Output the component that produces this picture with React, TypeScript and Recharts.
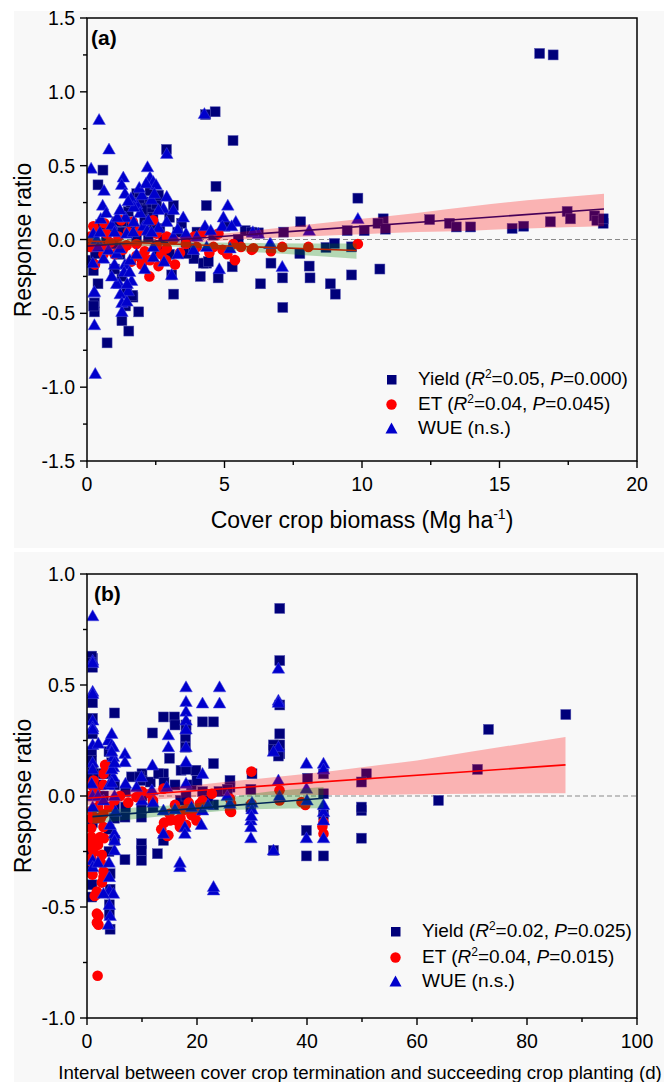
import React from 'react';
import { ComposedChart, Scatter, Line, Area, XAxis, YAxis, ReferenceLine, ReferenceArea } from 'recharts';

// ---- panel (a): cover crop biomass (Mg ha-1) ----
const yieldA: [number, number][] = [
  [16.46, 1.26], [16.95, 1.25], [4.66, 0.865], [4.31, 0.846], [5.31, 0.67], [2.89, 0.61], [0.58, 0.47], [0.4, 0.37],
  [4.69, 0.36], [4.34, 0.23], [9.85, 0.28], [7.77, 0.12], [7.15, 0.05], [9.46, 0.06], [10.08, 0.06], [10.77, 0.14],
  [10.58, 0.11], [10.85, 0.07], [12.46, 0.135], [13.18, 0.11], [13.43, 0.085], [13.95, 0.085], [15.46, 0.075],
  [15.88, 0.09], [16.85, 0.12], [17.46, 0.19], [17.58, 0.14], [18.46, 0.16], [18.54, 0.13], [18.77, 0.11], [18.77, 0.14],
  [6.31, -0.3], [6.69, -0.16], [7.11, -0.26], [8.08, -0.18], [8.11, -0.26], [7.74, -0.095], [8.85, -0.3], [9.03, -0.37],
  [9.62, -0.24], [10.65, -0.2], [8.69, -0.054], [9.0, -0.027], [9.62, -0.05], [4.12, -0.25], [4.77, -0.26], [4.35, -0.16],
  [5.28, -0.185], [3.89, -0.13], [3.08, -0.24], [3.15, -0.37], [1.66, -0.38], [1.81, 0.31], [2.05, 0.255], [2.29, 0.33],
  [2.19, 0.22], [1.5, 0.19], [1.38, 0.12], [1.44, 0.05], [2.29, 0.18], [2.53, 0.24], [3.14, 0.23], [3.44, 0.11],
  [5.02, 0.09], [5.75, 0.06], [5.99, 0.05], [6.23, 0.045], [4.23, -0.16], [4.41, -0.15], [3.62, -0.095], [0.17, -0.14],
  [0.23, -0.21], [0.53, -0.06], [0.96, -0.03], [1.62, 0.1], [2.65, 0.075], [2.23, 0.02], [1.8, 0.0], [2.78, 0.0],
  [3.87, -0.06], [0.27, -0.43], [0.27, -0.49], [0.73, -0.7], [1.27, -0.55], [1.52, -0.62], [1.67, -0.39], [1.88, -0.49],
  [1.45, -0.36], [7.12, -0.46], [1.09, 0.12], [0.24, -0.45], [1.27, -0.25], [1.64, -0.38], [0.3, -0.095], [0.7, 0.0],
  [1.2, -0.1], [2.0, -0.12], [2.6, -0.08], [3.3, 0.05], [0.9, 0.06], [2.4, 0.1], [1.0, -0.2], [1.9, 0.28], [2.1, 0.12],
  [3.0, -0.1], [4.0, 0.05], [4.6, 0.03], [5.5, 0.0], [3.6, -0.02], [2.0, 0.2], [2.4, 0.15], [1.6, 0.25], [1.2, 0.05],
  [0.5, 0.1], [0.2, -0.05], [0.4, -0.3], [1.4, -0.45], [2.6, 0.3], [3.0, 0.15],
];
const etA: [number, number][] = [
  [0.23, 0.09], [0.63, 0.11], [1.24, 0.13], [0.13, 0.02], [0.29, -0.17], [2.27, -0.25], [2.87, -0.14], [3.38, -0.09],
  [4.23, 0.05], [4.45, -0.09], [4.78, 0.04], [4.93, -0.07], [5.38, -0.14], [5.99, -0.07], [6.69, -0.08], [7.1, -0.05],
  [1.99, -0.17], [1.8, -0.11], [2.29, -0.14], [2.53, 0.04], [2.9, 0.02], [2.9, -0.06], [1.8, -0.03], [1.44, -0.04],
  [1.14, 0.02], [0.84, -0.02], [2.53, -0.04], [3.14, 0.0], [3.99, -0.05], [5.32, -0.03], [8.05, -0.05], [9.85, -0.03],
  [6.05, -0.06], [1.66, 0.12], [2.4, 0.13], [0.5, -0.05], [0.35, 0.05], [1.0, -0.1], [1.6, -0.15], [2.1, -0.08],
  [3.6, -0.03], [4.6, -0.05], [5.1, -0.1], [5.6, -0.05], [2.7, -0.1], [3.9, 0.02], [1.3, -0.07], [0.7, 0.04],
  [2.85, -0.14], [2.05, -0.13], [0.15, -0.05], [0.6, -0.1], [1.5, 0.05], [2.6, -0.18], [3.2, -0.17], [1.9, 0.06],
];
const wueA: [number, number][] = [
  [0.44, 0.81], [0.8, 0.61], [0.15, 0.48], [4.27, 0.85], [2.9, 0.58], [2.2, 0.49], [2.29, 0.42], [2.41, 0.39], [2.51, 0.37],
  [1.32, 0.42], [1.26, 0.37], [1.38, 0.31], [0.62, 0.33], [0.57, 0.23], [2.9, 0.29], [2.78, 0.21], [3.14, 0.2], [5.12, 0.23],
  [4.96, 0.15], [5.41, 0.12], [4.92, 0.09], [4.29, 0.09], [6.23, 0.04], [6.68, -0.03], [7.1, -0.185], [4.81, -0.2],
  [3.08, -0.24], [0.21, -0.16], [0.6, -0.13], [0.78, -0.07], [0.25, -0.36], [1.18, -0.3], [1.5, -0.35], [1.62, -0.28],
  [1.38, -0.17], [1.56, -0.14], [2.05, 0.09], [2.19, 0.06], [1.8, 0.24], [1.93, 0.18], [2.23, 0.13], [2.41, -0.05],
  [3.14, 0.02], [3.87, -0.07], [3.99, 0.02], [4.35, -0.05], [5.2, -0.06], [5.26, 0.09], [1.08, -0.095], [1.2, -0.06],
  [0.23, 0.04], [0.35, 0.0], [0.47, 0.05], [1.44, 0.04], [1.68, 0.05], [2.41, -0.12], [0.27, -0.58], [0.3, -0.91],
  [0.27, -0.355], [1.21, -0.37], [1.27, -0.43], [1.27, -0.49], [1.45, -0.42], [1.08, -0.3], [1.46, -0.3], [8.08, 0.06],
  [9.85, 0.14], [6.03, 0.05], [6.65, -0.03], [1.6, 0.28], [1.7, 0.22], [2.0, 0.3], [2.35, 0.27], [2.6, 0.2], [1.4, 0.15],
  [1.7, 0.12], [2.6, 0.08], [3.3, 0.07], [0.5, 0.14], [0.9, 0.1], [1.1, 0.15], [3.6, 0.04], [4.5, 0.06], [0.4, -0.05],
  [1.0, -0.17], [1.8, -0.1], [2.1, -0.2], [2.8, -0.15], [3.3, -0.1], [2.35, 0.05], [1.9, 0.35], [2.15, 0.38], [1.5, 0.26],
  [2.45, 0.31], [1.2, 0.2], [0.7, 0.18], [1.0, 0.05], [2.9, 0.12], [3.5, 0.15], [1.35, -0.22], [1.55, -0.22], [0.9, -0.25],
];
const yieldFitA: [number, number][] = [[0, -0.045], [18.8, 0.207]];
const yieldBandA: [number, number, number][] = [
  [0, -0.08, -0.01], [2, -0.05, 0.0], [4, -0.02, 0.025], [6, 0.005, 0.06], [8, 0.02, 0.1], [10, 0.035, 0.14],
  [12, 0.05, 0.18], [14, 0.06, 0.225], [16, 0.075, 0.265], [18.8, 0.09, 0.31],
];
const etFitA: [number, number][] = [[0, -0.01], [9.8, -0.075]];
const etBandA: [number, number, number][] = [[0, -0.035, 0.015], [3, -0.048, -0.012], [6.5, -0.09, -0.025], [9.8, -0.13, -0.027]];

// ---- panel (b): interval termination -> planting (d) ----
const yieldB: [number, number][] = [
  [87.06, 0.367], [73.0, 0.3], [71.0, 0.12], [63.9, -0.02], [50.8, 0.1], [49.9, 0.063], [49.9, -0.065], [49.9, -0.19],
  [49.9, -0.05], [35.05, 0.845], [35.05, 0.61], [35.05, 0.41], [35.05, 0.28], [35.05, 0.23], [35.05, 0.19], [33.9, 0.23],
  [33.9, 0.21], [34.8, 0.18], [40.1, 0.08], [43, 0.1], [43, 0.01], [43, -0.084], [39.9, -0.155], [39.9, -0.27], [43, -0.27],
  [33.9, -0.245], [29.8, 0.03], [30.0, 0.1], [29.8, -0.05], [26, 0.07], [26, 0.04], [23, -0.04], [5.0, 0.374], [1.0, 0.62],
  [1.0, 0.58], [1.0, 0.42], [1.0, 0.115], [0.85, 0.63], [0.85, 0.6], [0.85, 0.086], [11.9, 0.284], [13.9, 0.356],
  [15.9, 0.356], [21.0, 0.334], [23.0, 0.334], [23.0, 0.146], [17.9, 0.266], [17.9, 0.22], [15.0, 0.17], [13.9, 0.1],
  [17.1, 0.116], [19.8, 0.116], [10.0, 0.1], [10.0, 0.07], [8.1, 0.086], [9.6, 0.086], [11.5, 0.063], [13, 0.1], [18, 0.12],
  [9.9, -0.215], [9.9, -0.245], [9.9, -0.29], [6.9, -0.287], [12.8, -0.26], [13.9, -0.2], [0.85, -0.245], [0.85, -0.455],
  [4.06, -0.53], [4.06, -0.49], [6.9, -0.095], [9.9, -0.095], [9.9, -0.057], [0.85, 0.2], [0.85, 0.16], [1.0, 0.28],
  [4.0, 0.2], [4.5, 0.15], [4.0, 0.1], [5.0, 0.05], [3.0, 0.0], [5.0, -0.05], [4.0, -0.15], [5.0, -0.2], [1.0, -0.12],
  [4.2, -0.35], [4.2, -0.42], [0.9, -0.4], [2.0, -0.1], [7, 0.02], [7, -0.05], [10, 0.0], [12, -0.05], [17.0, -0.02],
  [18, 0.0], [19, 0.05], [21, 0.02], [22, -0.02], [24, 0.02], [16, 0.05], [14, 0.06], [20, 0.07], [18, 0.32], [18, 0.3],
  [16, 0.32], [25.5, 0.03], [1, 0.35], [1, 0.0], [1, -0.2], [2, 0.1], [3, 0.1], [4, -0.25], [5, -0.1], [0.85, -0.32],
  [4.2, -0.6], [2, 0.05],
];
const etB: [number, number][] = [
  [3.3, 0.14], [3.0, 0.1], [1.2, 0.04], [0.9, 0.003], [0.9, -0.065], [0.8, -0.185], [0.8, -0.35], [1.8, -0.43],
  [1.8, -0.53], [1.8, -0.57], [3.0, -0.34], [3.0, -0.365], [2.4, -0.185], [3.0, -0.14], [3.0, -0.08], [1.5, -0.1],
  [1.93, -0.81], [2.08, -0.54], [2.08, -0.58], [1.0, -0.354], [2.7, -0.39], [1.9, -0.44], [0.77, -0.23], [0.77, -0.2],
  [0.77, -0.145], [2.7, -0.265], [3.1, -0.19], [42.8, -0.137], [43, -0.117], [43, -0.17], [14.6, -0.18], [29.9, 0.11],
  [26, -0.012], [22.7, 0.01], [20.5, -0.035], [19, -0.087], [17.5, -0.065], [16.3, -0.11], [15.1, -0.11], [14.8, -0.177],
  [16.9, -0.14], [19.9, -0.11], [13.9, 0.033], [11.5, 0.01], [9.0, -0.005], [26, -0.065], [29.9, -0.035], [35, 0.026],
  [35, -0.02], [39, -0.027], [39.7, -0.04], [26.2, -0.072], [26.2, -0.035], [1.2, 0.07], [3.5, 0.13], [0.8, 0.05],
  [1.5, 0.02], [2.5, -0.02], [4, -0.05], [5, -0.02], [6, 0.0], [7.5, -0.03], [10, 0.02], [12, -0.02], [15, -0.08],
  [18, -0.13], [17, -0.1], [20, -0.07], [21, -0.02], [16, -0.04], [14, -0.12], [13.5, -0.15], [18.5, -0.03], [0.8, -0.28],
  [0.8, -0.1], [2.5, -0.3], [2, -0.22], [1.2, -0.25], [1, -0.3], [2.5, -0.1], [2, -0.05], [3, 0.05], [1.4, -0.45],
];
const wueB: [number, number][] = [
  [1.03, 0.81], [1.03, 0.61], [1.03, 0.6], [1.03, 0.47], [1.03, 0.46], [1.03, 0.34], [1.03, 0.31], [1.03, 0.3], [1.03, 0.23],
  [2.06, 0.236], [3.9, 0.25], [4.5, 0.23], [4.8, 0.22], [4.8, 0.176], [4.8, 0.13], [4.8, 0.086], [4.5, 0.2], [4.5, 0.12],
  [6.9, 0.19], [6.9, 0.153], [9.9, 0.086], [11.9, 0.138], [14.8, 0.274], [14.8, 0.22], [18.0, 0.49], [18.0, 0.424],
  [18.0, 0.38], [18.0, 0.34], [18.0, 0.3], [18.0, 0.22], [18.0, 0.153], [21.0, 0.417], [24.1, 0.49], [24.1, 0.417],
  [21.0, 0.1], [34.8, 0.574], [34.8, 0.43], [34.8, 0.42], [34.8, 0.22], [33.9, 0.2], [34.8, 0.07], [39.9, 0.146],
  [43, 0.146], [43, 0.12], [39.9, 0.033], [43, -0.072], [43, -0.19], [39.9, -0.19], [33.9, -0.245], [29.8, -0.19],
  [29.8, -0.11], [29.8, -0.14], [26, -0.035], [23, -0.425], [16.9, -0.32], [16.9, -0.3], [13.9, -0.17], [17.8, -0.14],
  [17.8, -0.17], [20.8, -0.13], [21, -0.065], [13.9, -0.065], [14.5, 0.04], [11.8, 0.026], [7.0, 0.056], [9, 0.04],
  [0.85, 0.056], [1.03, -0.29], [1.03, -0.32], [4.06, -0.365], [4.06, -0.425], [4.8, -0.44], [3.0, -0.44], [4.06, -0.49],
  [4.2, -0.54], [3.9, -0.58], [5.0, -0.17], [5.0, -0.245], [5.0, -0.2], [4.2, -0.13], [5.2, -0.07], [18, 0.056],
  [1.03, 0.0], [1.03, -0.05], [2.0, 0.0], [3.0, -0.02], [4, 0.05], [5, 0.0], [10, -0.02], [12, -0.03], [16, -0.06],
  [19, -0.05], [22, -0.04], [25.5, 0.0], [30, -0.03], [30, -0.06], [35, 0.0], [40, -0.02], [43, -0.11], [43, -0.04],
  [23, -0.41], [29.9, -0.09], [4.5, 0.28], [4.5, 0.06], [2, -0.3], [1.03, 0.15], [1.03, 0.12], [4, -0.3], [5, 0.15],
];
const etFitB: [number, number][] = [[0, -0.01], [87, 0.14]];
const etBandB: [number, number, number][] = [
  [0, -0.04, 0.02], [10, -0.02, 0.03], [20, -0.005, 0.05], [30, 0.005, 0.075], [40, 0.005, 0.1], [50, 0.005, 0.13],
  [60, 0.008, 0.16], [70, 0.01, 0.2], [87, 0.012, 0.266],
];
const yieldFitB: [number, number][] = [[1, -0.093], [43, -0.01]];
const yieldBandB: [number, number, number][] = [[1, -0.125, -0.068], [10, -0.1, -0.05], [20, -0.077, -0.033], [30, -0.06, 0.01], [43, -0.055, 0.04]];

const xTicksA = [0, 2.5, 5, 7.5, 10, 12.5, 15, 17.5, 20];
const xMajorA = [0, 5, 10, 15, 20];
const yTicksA = [-1.5, -1.25, -1, -0.75, -0.5, -0.25, 0, 0.25, 0.5, 0.75, 1, 1.25, 1.5];
const yMajorA = [-1.5, -1, -0.5, 0, 0.5, 1, 1.5];
const xTicksB = [0, 10, 20, 30, 40, 50, 60, 70, 80, 90, 100];
const xMajorB = [0, 20, 40, 60, 80, 100];
const yTicksB = [-1, -0.75, -0.5, -0.25, 0, 0.25, 0.5, 0.75, 1];
const yMajorB = [-1, -0.5, 0, 0.5, 1];

const NAVY = '#00007a';
const BLUE = '#0000cc';
const RED = '#ff0000';
const FONT = '"Liberation Sans", Arial, sans-serif';

const pts = (a: [number, number][]) => a.map(([x, y]) => ({ x, y }));
const fit = (a: [number, number][]) => a.map(([x, y]) => ({ x, y }));
const band = (a: [number, number, number][]) => a.map(([x, lo, hi]) => ({ x, range: [lo, hi] }));

const Square = (p: any) => <rect x={p.cx - 5} y={p.cy - 5} width={10} height={10} fill={NAVY} stroke="#5050b0" strokeWidth={0.5} />;
const Dot = (p: any) => <circle cx={p.cx} cy={p.cy} r={5.3} fill={RED} />;
const Tri = (p: any) => (
  <polygon points={`${p.cx},${p.cy - 6.4} ${p.cx + 6.3},${p.cy + 4.6} ${p.cx - 6.3},${p.cy + 4.6}`} fill={BLUE} stroke="#4a4ae0" strokeWidth={0.5} />
);

const makeXTick = (majors: number[]) => (p: any) => {
  const v = p.payload.value;
  const major = majors.includes(v);
  return (
    <g>
      <line x1={p.x} x2={p.x} y1={p.y} y2={p.y + (major ? 7 : 4)} stroke="#000" strokeWidth={1.4} />
      {major && (
        <text x={p.x} y={p.y + 23} textAnchor="middle" dominantBaseline="central" fontSize={19.5} fontFamily={FONT} fill="#000">
          {v}
        </text>
      )}
    </g>
  );
};
const makeYTick = (majors: number[]) => (p: any) => {
  const v = p.payload.value;
  const major = majors.includes(v);
  return (
    <g>
      <line x1={p.x} x2={p.x - (major ? 7 : 4)} y1={p.y} y2={p.y} stroke="#000" strokeWidth={1.4} />
      {major && (
        <text x={p.x - 12} y={p.y} textAnchor="end" dominantBaseline="central" fontSize={19.5} fontFamily={FONT} fill="#000">
          {v.toFixed(1)}
        </text>
      )}
    </g>
  );
};

function Panel(props: {
  top: number; height: number; margin: any; xDomain: [number, number]; yDomain: [number, number];
  xTicks: number[]; xMajor: number[]; yTicks: number[]; yMajor: number[];
  yieldPts: [number, number][]; etPts: [number, number][]; wuePts: [number, number][];
  fits: { line: [number, number][]; band: [number, number, number][]; lineColor: string; bandColor: string }[];
}) {
  return (
    <div style={{ position: 'absolute', left: 0, top: props.top }}>
      <ComposedChart width={664} height={props.height} margin={props.margin}>
        <XAxis type="number" dataKey="x" domain={props.xDomain} ticks={props.xTicks} allowDataOverflow height={40}
          tickSize={0} tickMargin={0} axisLine={false} tick={makeXTick(props.xMajor)} interval={0} />
        <YAxis type="number" dataKey="y" domain={props.yDomain} ticks={props.yTicks} allowDataOverflow width={60}
          tickSize={0} tickMargin={0} axisLine={false} tick={makeYTick(props.yMajor)} interval={0} />
        <ReferenceLine y={0} stroke="#8a8a8a" strokeDasharray="5 3" strokeWidth={1} />
        <Scatter data={pts(props.yieldPts)} shape={Square} isAnimationActive={false} />
        <Scatter data={pts(props.etPts)} shape={Dot} isAnimationActive={false} />
        <Scatter data={pts(props.wuePts)} shape={Tri} isAnimationActive={false} />
        {props.fits.map((f, i) => (
          <Line key={'l' + i} data={fit(f.line)} dataKey="y" stroke={f.lineColor} strokeWidth={1.6} dot={false}
            isAnimationActive={false} type="linear" zIndex={650} />
        ))}
        {props.fits.map((f, i) => (
          <Area key={'a' + i} data={band(f.band)} dataKey="range" stroke="none" fill={f.bandColor} fillOpacity={0.28}
            isAnimationActive={false} type="monotone" zIndex={700} />
        ))}
        <ReferenceArea x1={props.xDomain[0]} x2={props.xDomain[1]} y1={props.yDomain[0]} y2={props.yDomain[1]}
          fill="none" stroke="#000" strokeWidth={1.5} zIndex={800} />
      </ComposedChart>
    </div>
  );
}

const sup = (t: string) => <span style={{ fontSize: 12, position: 'relative', top: -7 }}>{t}</span>;

function LegendRows(props: { left: number; tops: number[]; rows: React.ReactNode[] }) {
  const markers = [
    <rect x={2} y={2} width={9.5} height={9.5} fill={NAVY} />,
    <circle cx={6.5} cy={6.5} r={5.2} fill={RED} />,
    <polygon points="6.5,0.5 12.5,11.5 0.5,11.5" fill={BLUE} />,
  ];
  return (
    <>
      {props.rows.map((r, i) => (
        <div key={i} style={{ position: 'absolute', left: props.left, top: props.tops[i] - 11, height: 22, display: 'flex', alignItems: 'center', whiteSpace: 'nowrap' }}>
          <svg width={13} height={13} style={{ marginRight: 20 }}>{markers[i]}</svg>
          <span style={{ fontFamily: FONT, fontSize: 19 }}>{r}</span>
        </div>
      ))}
    </>
  );
}

export default function App() {
  return (
    <div style={{ position: 'absolute', left: 0, top: 0, width: 664, height: 1082, background: '#fff', fontFamily: FONT }}>
      <div style={{ position: 'absolute', left: 14, top: 11, width: 650, height: 537, background: '#f8f8f8' }} />
      <div style={{ position: 'absolute', left: 14, top: 552, width: 650, height: 530, background: '#f8f8f8' }} />

      <Panel top={0} height={548} margin={{ top: 18, left: 27, right: 27, bottom: 47 }} xDomain={[0, 20]} yDomain={[-1.5, 1.5]}
        xTicks={xTicksA} xMajor={xMajorA} yTicks={yTicksA} yMajor={yMajorA}
        yieldPts={yieldA} etPts={etA} wuePts={wueA}
        fits={[
          { line: yieldFitA, band: yieldBandA, lineColor: NAVY, bandColor: '#ff0000' },
          { line: etFitA, band: etBandA, lineColor: RED, bandColor: '#008000' },
        ]} />
      <Panel top={548} height={534} margin={{ top: 26, left: 27, right: 27, bottom: 24 }} xDomain={[0, 100]} yDomain={[-1, 1]}
        xTicks={xTicksB} xMajor={xMajorB} yTicks={yTicksB} yMajor={yMajorB}
        yieldPts={yieldB} etPts={etB} wuePts={wueB}
        fits={[
          { line: etFitB, band: etBandB, lineColor: RED, bandColor: '#ff0000' },
          { line: yieldFitB, band: yieldBandB, lineColor: NAVY, bandColor: '#008000' },
        ]} />

      {/* panel labels */}
      <div style={{ position: 'absolute', left: 91, top: 26, fontSize: 21, fontWeight: 'bold' }}>(a)</div>
      <div style={{ position: 'absolute', left: 94, top: 582, fontSize: 21, fontWeight: 'bold' }}>(b)</div>

      {/* axis titles */}
      <div style={{ position: 'absolute', left: 23, top: 240, transform: 'translate(-50%, -50%) rotate(-90deg)', fontSize: 23, whiteSpace: 'nowrap' }}>Response ratio</div>
      <div style={{ position: 'absolute', left: 23, top: 796, transform: 'translate(-50%, -50%) rotate(-90deg)', fontSize: 23, whiteSpace: 'nowrap' }}>Response ratio</div>
      <div style={{ position: 'absolute', left: 362, top: 520, transform: 'translate(-50%, -50%)', fontSize: 23, whiteSpace: 'nowrap' }}>
        Cover crop biomass (Mg ha<span style={{ fontSize: 14, position: 'relative', top: -9 }}>-1</span>)
      </div>
      <div style={{ position: 'absolute', left: 360, top: 1073, transform: 'translate(-50%, -50%)', fontSize: 18.7, whiteSpace: 'nowrap' }}>
        Interval between cover crop termination and succeeding crop planting (d)
      </div>

      <LegendRows left={385} tops={[379, 404, 428]} rows={[
        <>Yield (<i>R</i>{sup('2')}=0.05, <i>P</i>=0.000)</>,
        <>ET (<i>R</i>{sup('2')}=0.04, <i>P</i>=0.045)</>,
        <>WUE (n.s.)</>,
      ]} />
      <LegendRows left={389} tops={[931, 957, 981]} rows={[
        <>Yield (<i>R</i>{sup('2')}=0.02, <i>P</i>=0.025)</>,
        <>ET (<i>R</i>{sup('2')}=0.04, <i>P</i>=0.015)</>,
        <>WUE (n.s.)</>,
      ]} />
    </div>
  );
}
